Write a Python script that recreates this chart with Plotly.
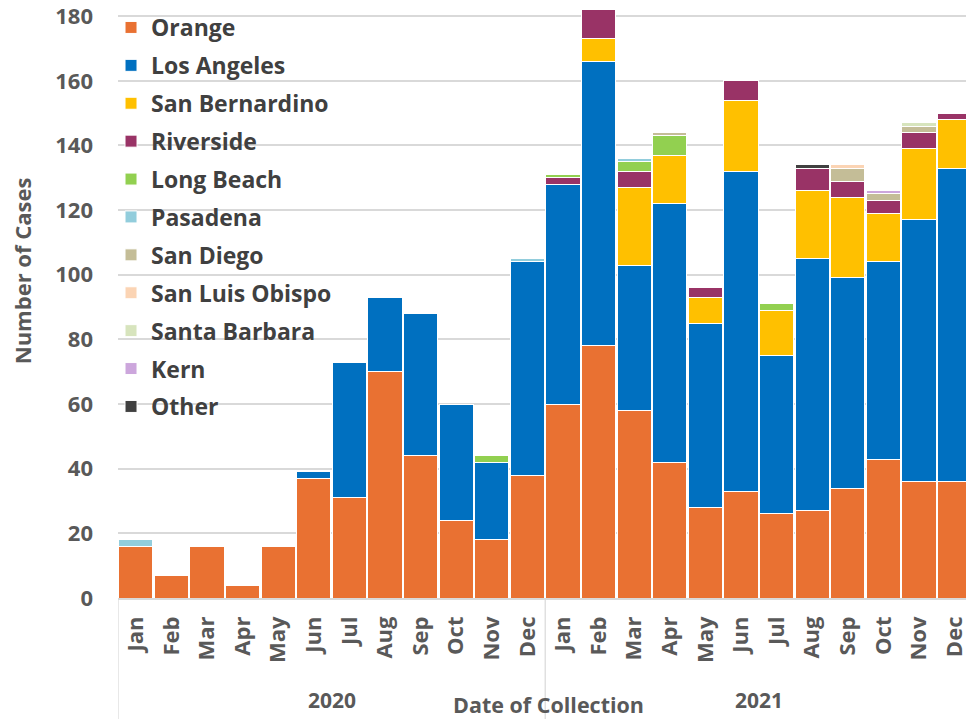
import plotly.graph_objects as go

months = ["Jan", "Feb", "Mar", "Apr", "May", "Jun", "Jul", "Aug", "Sep", "Oct", "Nov", "Dec"]
years = ["2020", "2021"]
categories = [f"{m} {y}" for y in years for m in months]
tick_labels = months + months

orange = [16, 7, 16, 4, 16, 37, 31, 70, 44, 24, 18, 38, 60, 78, 58, 42, 28, 33, 26, 27, 34, 43, 36, 36]
los_angeles = [0, 0, 0, 0, 0, 2, 42, 23, 44, 36, 24, 66, 68, 88, 45, 80, 57, 99, 49, 78, 65, 61, 81, 97]
san_bernardino = [0, 0, 0, 0, 0, 0, 0, 0, 0, 0, 0, 0, 0, 7, 24, 15, 8, 22, 14, 21, 25, 15, 22, 15]
riverside = [0, 0, 0, 0, 0, 0, 0, 0, 0, 0, 0, 0, 2, 9, 5, 0, 3, 6, 0, 7, 5, 4, 5, 2]
long_beach = [0, 0, 0, 0, 0, 0, 0, 0, 0, 0, 2, 0, 1, 0, 3, 6, 0, 0, 2, 0, 0, 0, 0, 0]
pasadena = [2, 0, 0, 0, 0, 0, 0, 0, 0, 0, 0, 1, 0, 0, 1, 0, 0, 0, 0, 0, 0, 0, 0, 0]
san_diego = [0, 0, 0, 0, 0, 0, 0, 0, 0, 0, 0, 0, 0, 0, 0, 1, 0, 0, 0, 0, 4, 2, 2, 0]
san_luis_obispo = [0, 0, 0, 0, 0, 0, 0, 0, 0, 0, 0, 0, 0, 0, 0, 0, 0, 0, 0, 0, 1, 0, 0, 0]
santa_barbara = [0, 0, 0, 0, 0, 0, 0, 0, 0, 0, 0, 0, 0, 0, 0, 0, 0, 0, 0, 0, 0, 0, 1, 0]
kern = [0, 0, 0, 0, 0, 0, 0, 0, 0, 0, 0, 0, 0, 0, 0, 0, 0, 0, 0, 0, 0, 1, 0, 0]
other = [0, 0, 0, 0, 0, 0, 0, 0, 0, 0, 0, 0, 0, 0, 0, 0, 0, 0, 0, 1, 0, 0, 0, 0]

series_names = ["Orange", "Los Angeles", "San Bernardino", "Riverside", "Long Beach", "Pasadena",
                "San Diego", "San Luis Obispo", "Santa Barbara", "Kern", "Other"]
series_values = [orange, los_angeles, san_bernardino, riverside, long_beach, pasadena,
                 san_diego, san_luis_obispo, santa_barbara, kern, other]
series_colors = ["#E97132", "#0070C0", "#FFC000", "#993366", "#92D050", "#92CDDC",
                 "#C4BD97", "#FBD4B4", "#D7E4BD", "#CCA6DC", "#404040"]

FONT = "Open Sans"
GREY = "#595959"

fig = go.Figure()
for name, vals, col in zip(series_names, series_values, series_colors):
    fig.add_trace(go.Bar(
        x=categories, y=vals, name=name, legendgroup=name,
        marker=dict(color=col, line=dict(color="white", width=1)),
    ))

W, H = 968, 719
L, R, T, B = 118, 0, 0, 121
plot_w = W - L - R
plot_h = H - T - B
base_y = H - B  # pixel row of the value axis zero


def py(px):
    """pixel row -> paper y"""
    return (base_y - px) / plot_h


fig.update_layout(
    width=W, height=H,
    margin=dict(l=L, r=R, t=T, b=B, pad=0),
    barmode="stack", bargap=0.04,
    plot_bgcolor="white", paper_bgcolor="white",
    font=dict(family=FONT, color=GREY),
    showlegend=True,
    legend=dict(
        x=-7 / plot_w, xanchor="left", y=py(6), yanchor="top",
        bgcolor="rgba(0,0,0,0)", borderwidth=0, maxheight=680,
        traceorder="grouped", tracegroupgap=5,
        font=dict(family=FONT, size=23, color="#404040", weight="bold"),
    ),
    xaxis=dict(
        type="category", range=[-0.5, 23.32],
        tickmode="array", tickvals=categories, ticktext=tick_labels,
        tickangle=-90, showgrid=False, ticks="",
        showline=True, linecolor="#D9D9D9", linewidth=1.5,
        tickfont=dict(family=FONT, size=22, color=GREY, weight="bold"),
        ticklabelstandoff=8,
    ),
    yaxis=dict(
        range=[0, 185], tickmode="array", tickvals=list(range(0, 181, 20)),
        showgrid=True, gridcolor="#D9D9D9", gridwidth=1.5,
        zeroline=False, showline=False, ticks="",
        tickfont=dict(family=FONT, size=22, color=GREY, weight="bold"),
        ticklabelstandoff=24, ticklabeloverflow="allow",
    ),
)

# white panel behind the legend that hides the gridlines (drawn between grid and bars)
fig.add_shape(type="rect", xref="paper", yref="paper",
              x0=0, x1=(336 - L) / plot_w, y0=py(422), y1=1.0,
              fillcolor="white", line=dict(width=0), layer="between")

# group separators below the axis
for xv in [-0.5, 11.5]:
    fig.add_shape(type="line", xref="x", yref="paper", x0=xv, x1=xv, y0=0, y1=-B / plot_h,
                  line=dict(color="#D9D9D9", width=1.2), layer="above")

fig.add_annotation(x=5.5, xref="x", y=py(700), yref="paper",
                   xanchor="center", yanchor="middle",
                   text="2020", showarrow=False,
                   font=dict(family=FONT, size=21, color=GREY, weight="bold"))
fig.add_annotation(x=17.5, xref="x", y=py(700), yref="paper",
                   xanchor="center", yanchor="middle",
                   text="2021", showarrow=False,
                   font=dict(family=FONT, size=21, color=GREY, weight="bold"))
fig.add_annotation(x=11.6, xref="x", y=py(704), yref="paper",
                   xanchor="center", yanchor="middle",
                   text="Date of Collection", showarrow=False,
                   font=dict(family=FONT, size=21.5, color=GREY, weight="bold"))
fig.add_annotation(x=-(L - 22) / plot_w, xref="paper", y=py(271), yref="paper",
                   xanchor="center", yanchor="middle",
                   text="Number of Cases", textangle=-90, showarrow=False,
                   font=dict(family=FONT, size=22, color=GREY, weight="bold"))

fig.write_html("out.html", config={"displayModeBar": False},
               post_script="document.body.style.margin='0';")
